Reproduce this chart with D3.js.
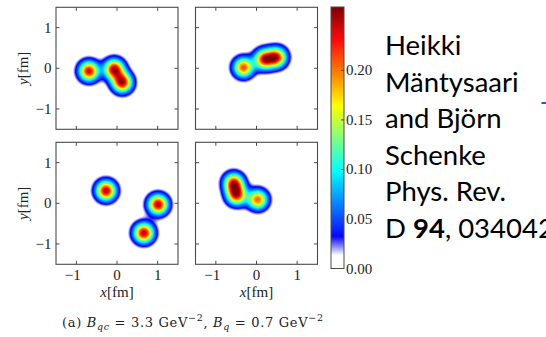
<!DOCTYPE html>
<html>
<head>
<meta charset="utf-8">
<script src="https://cdn.jsdelivr.net/npm/d3@7"></script>
<style>
  html, body { margin: 0; padding: 0; background: #fff; }
  svg { display: block; }
</style>
</head>
<body>
<svg id="chart" width="546" height="337"></svg>
<script>
// Hot-spot positions (fm) and peak heights for the four sampled proton configurations
const hotspotsTopLeft = [
  { x: -0.69, y: -0.07, a: 0.238 },
  { x: -0.07, y: -0.02, a: 0.245 },
  { x: 0.13, y: -0.35, a: 0.245 }
];
const hotspotsTopRight = [
  { x: -0.32, y: 0.02, a: 0.212 },
  { x: 0.19, y: 0.22, a: 0.222 },
  { x: 0.50, y: 0.27, a: 0.222 }
];
const hotspotsBottomLeft = [
  { x: -0.27, y: 0.31, a: 0.248 },
  { x: 1.01, y: -0.03, a: 0.248 },
  { x: 0.66, y: -0.73, a: 0.248 }
];
const hotspotsBottomRight = [
  { x: -0.56, y: 0.50, a: 0.222 },
  { x: -0.49, y: 0.20, a: 0.222 },
  { x: 0.03, y: 0.09, a: 0.205 }
];
const hotspotSigma = 0.165; // fm, sqrt(B_q)

const axisTicks = [-1, 0, 1];
const colorbarTicks = [0.00, 0.05, 0.10, 0.15, 0.20];
const colorbarMax = 0.264;
const creditLines = ["Heikki", "Mäntysaari", "and Björn", "Schenke", "Phys. Rev."];

// Layout
const panelSize = 122;
const colLeft = [56, 195.5];
const rowTop = [7.3, 142.3];
const panels = [
  { spots: hotspotsTopLeft, col: 0, row: 0 },
  { spots: hotspotsTopRight, col: 1, row: 0 },
  { spots: hotspotsBottomLeft, col: 0, row: 1 },
  { spots: hotspotsBottomRight, col: 1, row: 1 }
];

const svg = d3.select("#chart");
const serif = "'Liberation Serif', 'DejaVu Serif', serif";

// Jet-like colour map with the lowest values faded to white
const color = d3.scaleLinear()
  .domain([0, 0.014, 0.033, 0.099, 0.165, 0.231, colorbarMax])
  .range(["#ffffff", "#ffffff", "#0000ff", "#00ffff", "#ffff00", "#ff0000", "#800000"])
  .clamp(true);

const grid = 160;
const thresholds = d3.range(0.010, 0.275, 0.0025);
const defs = svg.append("defs");

panels.forEach((p, k) => {
  const x0 = colLeft[p.col], y0 = rowTop[p.row];
  const xs = d3.scaleLinear().domain([-1.5, 1.5]).range([x0, x0 + panelSize]);
  const ys = d3.scaleLinear().domain([-1.5, 1.5]).range([y0 + panelSize, y0]);
  const step = 3 / grid;

  // sample the thickness function on a regular grid (row 0 at y = +1.5)
  const values = new Float64Array(grid * grid);
  for (let j = 0; j < grid; j++) {
    const yv = 1.5 - (j + 0.5) * step;
    for (let i = 0; i < grid; i++) {
      const xv = -1.5 + (i + 0.5) * step;
      let s = 0;
      p.spots.forEach(h => {
        const d2 = (xv - h.x) ** 2 + (yv - h.y) ** 2;
        s += h.a * Math.exp(-d2 / (2 * hotspotSigma * hotspotSigma));
      });
      values[j * grid + i] = s;
    }
  }

  const proj = d3.geoTransform({
    point: function (gx, gy) {
      this.stream.point(xs(-1.5 + gx * step), ys(1.5 - gy * step));
    }
  });
  const path = d3.geoPath(proj);

  defs.append("clipPath").attr("id", "clip" + k)
    .append("rect").attr("x", x0).attr("y", y0)
    .attr("width", panelSize).attr("height", panelSize);

  const g = svg.append("g");
  g.append("g").attr("clip-path", `url(#clip${k})`)
    .selectAll("path")
    .data(d3.contours().size([grid, grid]).thresholds(thresholds)(values))
    .join("path")
    .attr("d", path)
    .attr("fill", d => color(d.value + 0.00125))
    .attr("stroke", "none");

  // frame
  g.append("rect").attr("x", x0).attr("y", y0)
    .attr("width", panelSize).attr("height", panelSize)
    .attr("fill", "none").attr("stroke", "#4a4a4a").attr("stroke-width", 1.1);

  // inward ticks on all four sides
  const tl = 3.5;
  axisTicks.forEach(t => {
    const tx = xs(t), ty = ys(t);
    [[tx, y0, tx, y0 + tl], [tx, y0 + panelSize, tx, y0 + panelSize - tl],
     [x0, ty, x0 + tl, ty], [x0 + panelSize, ty, x0 + panelSize - tl, ty]].forEach(c => {
      g.append("line").attr("x1", c[0]).attr("y1", c[1]).attr("x2", c[2]).attr("y2", c[3])
        .attr("stroke", "#4a4a4a").attr("stroke-width", 1);
    });
  });

  // tick labels on the outer edges only
  const fmt = t => (t < 0 ? "\u2212" + Math.abs(t) : String(t));
  if (p.col === 0) {
    axisTicks.forEach(t => {
      g.append("text").attr("x", x0 - 4.5).attr("y", ys(t) + 5)
        .attr("text-anchor", "end").attr("font-family", serif).attr("font-size", 15)
        .attr("fill", "#222").text(fmt(t));
    });
    const lbl = g.append("text")
      .attr("transform", `translate(${x0 - 28},${y0 + panelSize / 2}) rotate(-90)`)
      .attr("text-anchor", "middle").attr("font-family", serif).attr("font-size", 15)
      .attr("fill", "#222");
    lbl.append("tspan").attr("font-style", "italic").text("y");
    lbl.append("tspan").text("[fm]");
  }
  if (p.row === 1) {
    axisTicks.forEach(t => {
      g.append("text").attr("x", xs(t) + (t < 0 ? -3.5 : 0)).attr("y", y0 + panelSize + 15.5)
        .attr("text-anchor", "middle").attr("font-family", serif).attr("font-size", 15)
        .attr("fill", "#222").text(fmt(t));
    });
    const lbl = g.append("text")
      .attr("x", x0 + panelSize / 2).attr("y", y0 + panelSize + 33)
      .attr("text-anchor", "middle").attr("font-family", serif).attr("font-size", 15)
      .attr("fill", "#222");
    lbl.append("tspan").attr("font-style", "italic").text("x");
    lbl.append("tspan").text("[fm]");
  }
});

// Colour bar
const cbX = 331, cbW = 13, cbTop = 7, cbBottom = 268.5;
const cbScale = d3.scaleLinear().domain([0, colorbarMax]).range([cbBottom, cbTop]);
const cbSteps = d3.range(0, colorbarMax, colorbarMax / 260);
svg.append("g").selectAll("rect").data(cbSteps).join("rect")
  .attr("x", cbX).attr("width", cbW)
  .attr("y", d => cbScale(d + colorbarMax / 260))
  .attr("height", d => cbScale(d) - cbScale(d + colorbarMax / 260) + 0.6)
  .attr("fill", d => color(d + colorbarMax / 520));
svg.append("rect").attr("x", cbX).attr("y", cbTop).attr("width", cbW)
  .attr("height", cbBottom - cbTop).attr("fill", "none")
  .attr("stroke", "#4a4a4a").attr("stroke-width", 1);
colorbarTicks.forEach(t => {
  svg.append("line").attr("x1", cbX + cbW).attr("x2", cbX + cbW - 3)
    .attr("y1", cbScale(t)).attr("y2", cbScale(t))
    .attr("stroke", "#4a4a4a").attr("stroke-width", 1);
  svg.append("text").attr("x", cbX + cbW + 2).attr("y", cbScale(t) + 5)
    .attr("font-family", serif).attr("font-size", 15).attr("fill", "#222")
    .text(d3.format(".2f")(t));
});

// Citation text
const sans = "Lato, 'Open Sans', sans-serif";
creditLines.forEach((s, i) => {
  svg.append("text").attr("x", 385).attr("y", 55 + i * 36.6)
    .attr("font-family", sans).attr("font-size", 27.5).attr("fill", "#000").text(s);
});
const ref = svg.append("text").attr("x", 385).attr("y", 55 + 5 * 36.6)
  .attr("font-family", sans).attr("font-size", 27.5).attr("fill", "#000");
ref.append("tspan").text("D ");
ref.append("tspan").attr("font-weight", "bold").text("94");
ref.append("tspan").text(", 034042");
svg.append("rect").attr("x", 541.5).attr("y", 102).attr("width", 4.5).attr("height", 2)
  .attr("fill", "#2255dd");

// Caption
const capSerif = "'DejaVu Serif', 'Liberation Serif', serif";
const cap = svg.append("text").attr("x", 62).attr("y", 326.5)
  .attr("font-family", capSerif).attr("font-size", 13).attr("fill", "#222")
  .attr("textLength", 261).attr("lengthAdjust", "spacing");
cap.append("tspan").text("(a) ");
cap.append("tspan").attr("font-style", "italic").text("B");
cap.append("tspan").attr("font-style", "italic").attr("font-size", 9.5).attr("dy", 3).text("qc");
cap.append("tspan").attr("dy", -3).text(" = 3.3 GeV");
cap.append("tspan").attr("font-size", 9.5).attr("dy", -5.5).text("\u22122");
cap.append("tspan").attr("dy", 5.5).text(", ");
cap.append("tspan").attr("font-style", "italic").text("B");
cap.append("tspan").attr("font-style", "italic").attr("font-size", 9.5).attr("dy", 3).text("q");
cap.append("tspan").attr("dy", -3).text(" = 0.7 GeV");
cap.append("tspan").attr("font-size", 9.5).attr("dy", -5.5).text("\u22122");
</script>
</body>
</html>
